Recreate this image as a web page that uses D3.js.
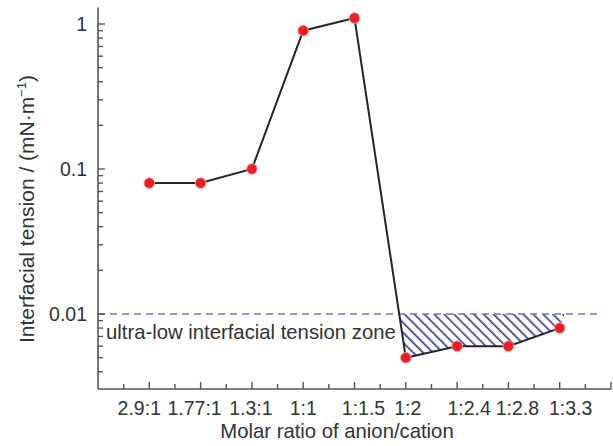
<!DOCTYPE html>
<meta charset="utf-8">
<html>
<head>
<style>
    body { margin: 0; background: #fff; }
    text { font-family: "Liberation Sans", Arial, sans-serif; fill: #333; }
</style>
</head>
<body>
<svg width="613" height="446"></svg>
<script src="https://d3js.org/d3.v7.min.js"></script>
<script>

    var ratios = ["2.9:1", "1.77:1", "1.3:1", "1:1", "1:1.5", "1:2", "1:2.4", "1:2.8", "1:3.3"];
    var tension = [0.08, 0.08, 0.1, 0.9, 1.1, 0.005, 0.006, 0.006, 0.008];
    var yLabels = [0.01, 0.1, 1];
    var yMinor = [0.004, 0.005, 0.006, 0.007, 0.008, 0.009,
                  0.02, 0.03, 0.04, 0.05, 0.06, 0.07, 0.08, 0.09,
                  0.2, 0.3, 0.4, 0.5, 0.6, 0.7, 0.8, 0.9];
    var threshold = 0.01;

    // the original labels sit a little off their ticks
    var labelShift = [-10, -6, -1, 0, 9, 2, 12, 9, 11];

    var svg = d3.select("svg");

    var x = d3.scaleLinear().domain([-1, ratios.length]).range([98, 611]);
    var y = d3.scaleLog().domain([0.00304, 1.3]).range([389, 7.5]);

    var axisColor = "#555";

    // hatch pattern for the ultra-low zone
    var defs = svg.append("defs");
    defs.append("pattern")
        .attr("id", "hatch")
        .attr("patternUnits", "userSpaceOnUse")
        .attr("width", 7).attr("height", 7)
        .attr("patternTransform", "rotate(-45)")
        .append("line")
        .attr("x1", 0).attr("y1", 0).attr("x2", 0).attr("y2", 7)
        .attr("stroke", "#35359a").attr("stroke-width", 3.2);

    // zone polygon: crossing of steep segment with 0.01, then low points
    var lo = tension.map((v, i) => i).filter(i => tension[i] < threshold);
    var i0 = lo[0], iN = lo[lo.length - 1];
    var ly = Math.log10;
    var t = (ly(tension[i0 - 1]) - ly(threshold)) / (ly(tension[i0 - 1]) - ly(tension[i0]));
    var xCross = x(i0 - 1 + t);
    var zone = [[xCross, y(threshold)]]
        .concat(lo.map(i => [x(i), y(tension[i])]))
        .concat([[x(iN) + 5, y(threshold)]]);
    svg.append("path")
        .attr("d", "M" + zone.join("L") + "Z")
        .attr("fill", "url(#hatch)");

    // dashed threshold line
    svg.append("line")
        .attr("x1", x(-1)).attr("x2", x(8.8))
        .attr("y1", y(threshold)).attr("y2", y(threshold))
        .attr("stroke", "#7474c4").attr("stroke-width", 1.6)
        .attr("stroke-dasharray", "7,5");

    svg.append("text")
        .attr("x", 106).attr("y", 339)
        .style("font-size", "20.3px")
        .text("ultra-low interfacial tension zone");

    // axes
    var gx = svg.append("g");
    gx.append("line").attr("x1", 98).attr("x2", 611).attr("y1", 389).attr("y2", 389)
        .attr("stroke", axisColor).attr("stroke-width", 1.6);
    var xt = d3.range(-0.5, ratios.length + 0.01, 0.5);
    gx.selectAll(".xt").data(xt).enter().append("line")
        .attr("x1", d => x(d)).attr("x2", d => x(d))
        .attr("y1", 389).attr("y2", d => Number.isInteger(d) ? 382 : 384)
        .attr("stroke", axisColor).attr("stroke-width", 1.4);
    gx.selectAll(".xl").data(ratios).enter().append("text")
        .attr("x", (d, i) => x(i) + labelShift[i]).attr("y", 415)
        .attr("text-anchor", "middle")
        .style("font-size", "19.5px")
        .text(d => d);

    var gy = svg.append("g");
    gy.append("line").attr("x1", 98).attr("x2", 98).attr("y1", 7.5).attr("y2", 389)
        .attr("stroke", axisColor).attr("stroke-width", 1.6);
    gy.selectAll(".ym").data(yMinor).enter().append("line")
        .attr("x1", 98).attr("x2", 103)
        .attr("y1", d => y(d)).attr("y2", d => y(d))
        .attr("stroke", axisColor).attr("stroke-width", 1.4);
    gy.selectAll(".yM").data(yLabels).enter().append("line")
        .attr("x1", 98).attr("x2", 105)
        .attr("y1", d => y(d)).attr("y2", d => y(d))
        .attr("stroke", axisColor).attr("stroke-width", 1.4);
    gy.selectAll(".yl").data(yLabels).enter().append("text")
        .attr("x", 87).attr("y", d => y(d))
        .attr("dy", "0.35em")
        .attr("text-anchor", "end")
        .style("font-size", "19.5px")
        .text(d => d3.format("~g")(d));

    // titles
    svg.append("text")
        .attr("x", 337).attr("y", 438)
        .attr("text-anchor", "middle")
        .style("font-size", "20.3px")
        .text("Molar ratio of anion/cation");

    var yt = svg.append("text")
        .attr("transform", "translate(34,209) rotate(-90)")
        .attr("text-anchor", "middle")
        .style("font-size", "21px");
    yt.append("tspan").text("Interfacial tension / (mN\u00b7m");
    yt.append("tspan").attr("dy", -8).style("font-size", "13px").text("\u22121");
    yt.append("tspan").attr("dy", 8).text(")");

    // data line and points
    var line = d3.line().x((d, i) => x(i)).y(d => y(d));
    svg.append("path")
        .datum(tension)
        .attr("d", line)
        .attr("fill", "none")
        .attr("stroke", "#262626")
        .attr("stroke-width", 2);

    svg.selectAll(".pt").data(tension).enter().append("circle")
        .attr("cx", (d, i) => x(i)).attr("cy", d => y(d))
        .attr("r", 5.3)
        .attr("fill", "#ee1c24")
        .attr("stroke", "#f7a0a0").attr("stroke-width", 0.8);

</script>
</body>
</html>
